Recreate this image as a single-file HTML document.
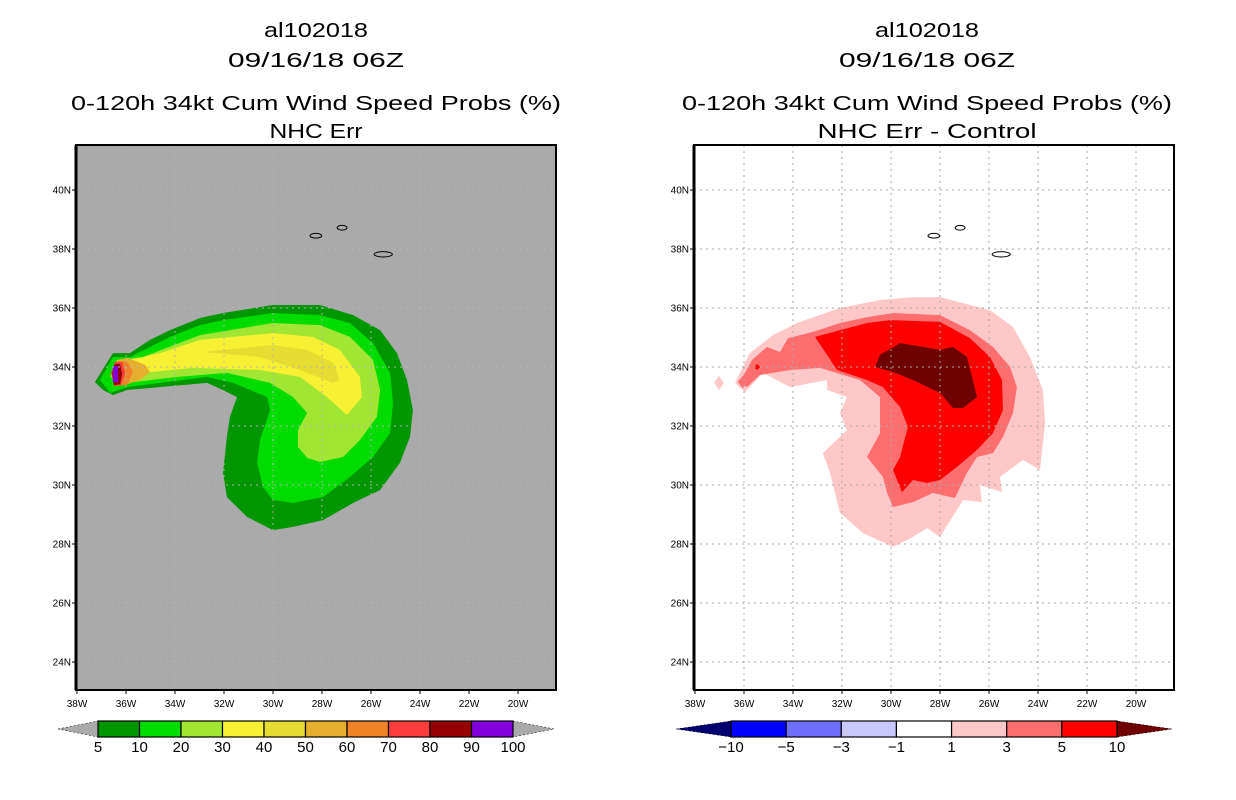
<!DOCTYPE html>
<html><head><meta charset="utf-8"><style>
html,body{margin:0;padding:0;background:#fff;width:1236px;height:800px;overflow:hidden}
svg text{font-family:"Liberation Sans",sans-serif}
</style></head><body>
<svg id="root" width="1236" height="800" viewBox="0 0 1236 800" xmlns="http://www.w3.org/2000/svg"></svg>
<script>
// ---- data ----
const lonTicks = [38,36,34,32,30,28,26,24,22,20];
const latTicks = [24,26,28,30,32,34,36,38,40];
const leftLevels = ['5','10','20','30','40','50','60','70','80','90','100'];
const leftColors = ['#009600','#00dc00','#a0e632','#f8f032','#e6dc32','#e6af2d','#f08228','#fa3c3c','#960000','#8200dc'];
const rightLevels = ['-10','-5','-3','-1','1','3','5','10'];
const rightColors = ['#00006e','#0000ff','#6e6eff','#c8c8ff','#ffffff','#ffc8c8','#ff6e6e','#ff0000','#6e0000'];
// contour rings: [lonW, latN]
const probC5 = [[37.27,33.49],[36.53,34.47],[35.84,34.47],[35.02,34.92],[34.20,35.25],[32.98,35.66],[32.04,35.83],[30.0,36.10],[28.08,36.10],[26.73,35.76],[25.63,35.25],[24.94,34.47],[24.53,33.56],[24.29,32.54],[24.41,31.63],[24.82,30.75],[25.63,29.83],[26.73,29.39],[27.96,28.81],[29.18,28.58],[30.0,28.47],[31.06,28.92],[31.88,29.59],[32.04,30.41],[31.88,31.63],[31.76,32.31],[31.47,32.98],[32.04,33.22],[32.69,33.46],[35.96,33.22],[36.53,33.05],[36.94,33.22]];
const probC10 = [[37.06,33.56],[36.53,34.34],[35.84,34.34],[34.20,35.02],[32.98,35.42],[32.04,35.59],[30.0,35.83],[28.08,35.76],[26.86,35.49],[25.92,34.81],[25.22,33.80],[25.10,32.78],[25.22,31.76],[25.92,30.95],[26.86,30.27],[27.96,29.59],[29.18,29.39],[30.0,29.49],[30.41,29.93],[30.65,30.75],[30.53,31.53],[30.12,32.54],[30.24,32.98],[31.63,33.46],[32.69,33.66],[35.96,33.32],[36.65,33.12]];
const probC20 = [[36.65,33.66],[36.37,34.24],[35.31,34.34],[32.98,35.08],[30.0,35.49],[28.08,35.42],[26.86,35.02],[25.92,34.24],[25.63,33.22],[25.76,32.31],[26.45,31.53],[27.14,30.95],[28.08,30.78],[28.61,30.92],[28.98,31.29],[28.98,31.86],[28.61,32.44],[29.18,32.98],[30.12,33.46],[31.88,33.80],[33.92,33.66],[35.96,33.46]];
const probC30 = [[36.53,33.80],[36.24,34.17],[34.61,34.47],[32.98,34.92],[30.0,35.15],[28.37,35.02],[27.27,34.58],[26.45,33.66],[26.37,32.98],[26.98,32.37],[27.80,32.98],[28.90,33.66],[30.53,33.90],[33.27,33.97],[35.31,33.80],[35.96,33.49]];
const probC40 = [[32.86,34.51],[30.0,34.75],[28.61,34.58],[27.55,34.14],[27.27,33.56],[27.55,33.46],[28.90,33.90],[30.53,34.34]];
const probC50 = [[36.53,33.83],[36.33,34.24],[35.92,34.31],[35.22,34.07],[35.02,33.83],[35.43,33.56],[36.04,33.39],[36.45,33.49]];
const probC60 = [[36.57,33.83],[36.37,34.20],[35.96,34.20],[35.71,33.83],[35.96,33.39],[36.45,33.36]];
const probC70 = [[36.61,33.80],[36.45,34.17],[36.16,34.17],[36.04,33.80],[36.20,33.39],[36.49,33.36]];
const probC80 = [[36.57,33.80],[36.45,34.10],[36.24,34.10],[36.16,33.76],[36.24,33.42],[36.49,33.39]];
const probC90 = [[36.53,34.03],[36.33,34.03],[36.33,33.49],[36.53,33.49]];
const diffC1 = [[36.37,33.46],[35.76,34.47],[34.82,35.08],[33.84,35.49],[32.08,36.0],[30.45,36.27],[29.10,36.37],[28.0,36.37],[25.96,35.93],[25.02,35.36],[24.33,34.34],[23.80,33.22],[23.71,32.10],[23.92,30.51],[24.61,30.85],[25.55,30.27],[25.47,29.76],[26.37,30.0],[26.29,29.42],[27.06,29.49],[28.0,28.24],[28.53,28.54],[29.10,28.24],[29.92,27.90],[31.14,28.37],[32.08,29.05],[32.49,30.41],[32.78,31.08],[31.80,31.86],[32.08,32.44],[31.80,32.98],[32.61,33.22],[32.61,33.56],[34.12,33.32],[35.22,33.80],[35.96,33.15]];
const diffC1b = [[37.22,33.46],[37.02,33.70],[36.82,33.46],[37.02,33.22]];
const diffC3 = [[36.16,33.49],[35.67,34.24],[35.06,34.68],[34.53,34.51],[34.20,34.98],[33.18,35.19],[32.08,35.49],[30.98,35.69],[29.92,35.83],[28.0,35.76],[26.78,35.25],[25.84,34.68],[25.14,34.0],[24.86,33.32],[25.02,32.44],[25.43,31.63],[25.84,31.08],[26.49,30.95],[26.90,30.41],[27.39,29.56],[28.29,29.73],[29.10,29.42],[29.92,29.25],[30.16,29.73],[30.33,30.27],[30.98,30.95],[30.45,31.76],[30.45,32.44],[30.45,32.98],[31.27,33.56],[32.90,33.97],[34.12,33.90],[35.35,33.73],[35.88,33.32]];
const diffC3b = [[36.25,33.49],[36.05,33.70],[35.85,33.49],[36.05,33.28]];
const diffC5 = [[33.10,35.02],[30.98,35.49],[30.04,35.59],[28.0,35.53],[26.78,34.98],[25.96,34.34],[25.47,33.56],[25.43,32.54],[25.84,31.76],[26.49,31.19],[27.31,30.61],[28.0,30.17],[28.53,30.07],[29.10,30.17],[29.55,29.76],[29.92,30.51],[29.63,30.95],[29.31,31.97],[29.63,32.64],[30.33,33.32],[30.98,33.56],[32.20,33.90]];
const diffC5b = [[35.60,34.0],[35.47,34.10],[35.34,34.0],[35.47,33.90]];
const diffC10 = [[30.65,34.0],[30.45,34.41],[29.63,34.81],[28.0,34.58],[27.47,34.68],[26.90,34.34],[26.49,32.98],[27.06,32.61],[27.47,32.61],[28.0,33.12],[29.10,33.56],[29.92,33.83]];
const islands = [[28.25,38.45,0.24,0.08],[27.18,38.72,0.2,0.08],[25.5,37.82,0.37,0.09]];

// ---- axes ----
const PX0 = 76, PW = 480, PY0 = 145, PH = 545;
const LON_LEFT = 38, DEG_X = 24.5, LAT_REF = 34, Y_REF = 367, DEG_Y = 29.5;
function xs(lonW, off){ return off + PX0 + 1 + (LON_LEFT - lonW) * DEG_X; }
function ys(lat){ return Y_REF - (lat - LAT_REF) * DEG_Y; }
const NS = 'http://www.w3.org/2000/svg';
const root = document.getElementById('root');
function mk(tag, attrs, parent){ const e = document.createElementNS(NS, tag); for (const k in attrs) e.setAttribute(k, attrs[k]); (parent||root).appendChild(e); return e; }
function ring(pts, off){ return 'M' + pts.map(p => xs(p[0],off).toFixed(1)+','+ys(p[1]).toFixed(1)).join('L') + 'Z'; }

function panel(off, bg, rings, colors, gridColor, label, names){
  const g = mk('g', {});
  
  
  const defs = mk('defs', {}, g);
  const cp = mk('clipPath', {id: 'clip' + off}, defs);
  mk('rect', {x: PX0+off, y: PY0, width: PW, height: PH}, cp);
  const bgr = mk('rect', {x: PX0+off, y: PY0, width: PW, height: PH, fill: bg}, g);
  
  
  const cg = mk('g', {'clip-path': 'url(#clip'+off+')'}, g);
  rings.forEach((r, i) => {
    const p = mk('path', {d: ring(r, off), fill: colors[i]}, cg);
    
    
  });
  lonTicks.slice(1).forEach(l => {
    const ln = mk('line', {x1: xs(l,off), x2: xs(l,off), y1: PY0, y2: PY0+PH, stroke: gridColor, 'stroke-width': 1, 'stroke-dasharray': '2,4'}, cg);
    
    
  });
  latTicks.forEach(l => {
    const ln = mk('line', {x1: PX0+off, x2: PX0+off+PW, y1: ys(l), y2: ys(l), stroke: gridColor, 'stroke-width': 1, 'stroke-dasharray': '2,4'}, cg);
    
    
  });
  islands.forEach(s => {
    const e = mk('ellipse', {cx: xs(s[0],off), cy: ys(s[1]), rx: s[2]*DEG_X, ry: s[3]*DEG_Y, fill: 'none', stroke: '#000', 'stroke-width': 1}, cg);
    
    
  });
  const fr = mk('rect', {x: PX0+off, y: PY0, width: PW, height: PH, fill: 'none', stroke: '#000', 'stroke-width': 2}, g);
  
  
  mk('line', {x1: PX0+off, x2: PX0+off, y1: PY0, y2: PY0+PH, stroke: '#000', 'stroke-width': 3}, g);
  latTicks.forEach(l => {
    mk('line', {x1: PX0+off-4, x2: PX0+off, y1: ys(l), y2: ys(l), stroke: '#000'}, g);
    const t = mk('text', {x: PX0+off-5, y: ys(l)+3.5, 'font-size': 10, 'text-anchor': 'end'}, g);
    t.textContent = l + 'N';
    
    
  });
  lonTicks.forEach(l => {
    mk('line', {x1: xs(l,off), x2: xs(l,off), y1: PY0+PH, y2: PY0+PH+4, stroke: '#000'}, g);
    const t = mk('text', {x: xs(l,off), y: PY0+PH+17, 'font-size': 10, 'text-anchor': 'middle'}, g);
    t.textContent = l + 'W';
    
    
  });
}

panel(0, '#aaaaaa', [probC5,probC10,probC20,probC30,probC40,probC50,probC60,probC70,probC80,probC90], leftColors,
  '#b4b4b4', 'probability', ['contour-5','contour-10','contour-20','contour-30','contour-40','contour-50','contour-60','contour-70','contour-80','contour-90']);
panel(618, '#ffffff', [diffC1,diffC1b,diffC3,diffC3b,diffC5,diffC5b,diffC10], ['#ffc8c8','#ffc8c8','#ff6e6e','#ff6e6e','#ff0000','#ff0000','#6e0000'],
  '#a8a8a8', 'difference', ['contour-1','contour-1-spot','contour-3','contour-3-spot','contour-5','contour-5-spot','contour-10']);

// titles
function titles(cx, lines, widths){
  const ys_ = [37, 67, 110, 138];
  lines.forEach((s, i) => {
    const t = mk('text', {x: cx - widths[i]/2, y: ys_[i], 'font-size': 20, textLength: widths[i], lengthAdjust: 'spacingAndGlyphs'});
    t.textContent = s;
    
    
  });
}
titles(316, ['al102018', '09/16/18 06Z', '0-120h 34kt Cum Wind Speed Probs (%)', 'NHC Err'], [104, 176, 490, 93]);
titles(927, ['al102018', '09/16/18 06Z', '0-120h 34kt Cum Wind Speed Probs (%)', 'NHC Err - Control'], [104, 176, 490, 219]);

// colorbars
function colorbar(x0, x1, tipL, tipR, colors, levels, leftFill, rightFill, name){
  const y0 = 721, y1 = 737, n = colors.length, w = (x1 - x0) / n;
  const g = mk('g', {});
  
  
  const tl = mk('polygon', {points: `${tipL},${(y0+y1)/2} ${x0},${y0} ${x0},${y1}`, fill: leftFill, stroke: '#000', 'stroke-width': 0.5, 'stroke-dasharray': '2,2'}, g);
  
  
  const tr = mk('polygon', {points: `${tipR},${(y0+y1)/2} ${x1},${y0} ${x1},${y1}`, fill: rightFill, stroke: '#000', 'stroke-width': 0.5, 'stroke-dasharray': '2,2'}, g);
  
  
  colors.forEach((c, i) => {
    const r = mk('rect', {x: x0 + i*w, y: y0, width: w, height: y1-y0, fill: c, stroke: '#000', 'stroke-width': 1.2}, g);
    
    
  });
  levels.forEach((l, i) => {
    const t = mk('text', {x: x0 + i*w, y: 752, 'font-size': 15, 'text-anchor': 'middle'}, g);
    t.textContent = l.replace('-', '\u2212');
    
    
  });
}
colorbar(98, 513, 58, 554, leftColors, leftLevels, '#aaaaaa', '#aaaaaa', 'probability-colorbar');
colorbar(731, 1117, 676, 1172, rightColors.slice(1, 8), rightLevels, rightColors[0], rightColors[8], 'difference-colorbar');
</script>
</body></html>
